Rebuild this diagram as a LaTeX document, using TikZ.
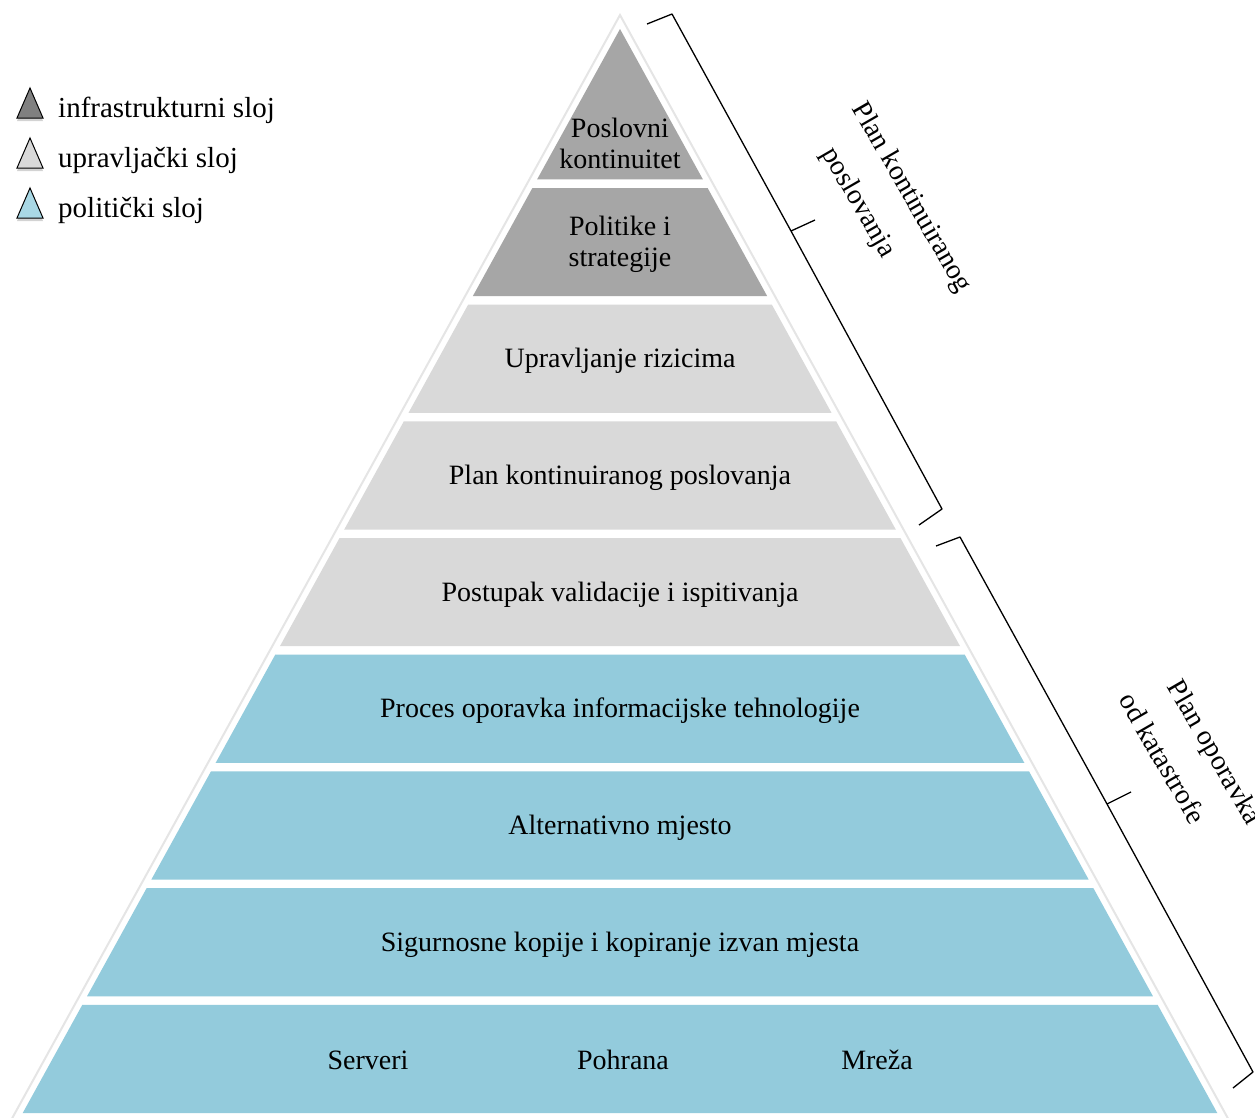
\documentclass[tikz,border=0pt]{standalone}
\usepackage{fontspec}
\setmainfont{Liberation Serif}
\usetikzlibrary{shadows}
\definecolor{darkband}{HTML}{A6A6A6}
\definecolor{lightband}{HTML}{D9D9D9}
\definecolor{blueband}{HTML}{93CBDC}
\definecolor{legdark}{HTML}{808080}
\definecolor{leglight}{HTML}{D9D9D9}
\definecolor{legblue}{HTML}{A9D8E5}
\begin{document}
\begin{tikzpicture}[x=1pt,y=-1pt,
  txt/.style={font=\fontsize{28}{31}\selectfont, inner sep=0pt, align=center},
  legtxt/.style={font=\fontsize{29}{32}\selectfont, inner sep=0pt, anchor=base west},
  legtri/.style={draw=black, line width=1pt, drop shadow={shadow xshift=0pt, shadow yshift=-3pt, opacity=0.35}},
  bracepath/.style={draw=black, line width=1.3pt, line join=round},
  rottxt/.style={font=\fontsize{28}{31}\selectfont, inner sep=0pt, rotate=-60}]
\useasboundingbox (0,0) rectangle (1255,1117);
\clip (0,0) rectangle (1255,1117);
% outer white triangle
\draw[black!10, line width=2pt, fill=white] (620,15) -- (1231.6,1125) -- (8.4,1125) -- cycle;
% top triangle
\fill[darkband] (620,29) -- (702.9,179.4) -- (537.1,179.4) -- cycle;
% bands
\foreach \t/\b/\c in {188/296.1/darkband, 304.6/412.8/lightband, 421.3/529.5/lightband,
  538/646.2/lightband, 654.7/762.9/blueband, 771.4/879.6/blueband, 888.1/996.3/blueband,
  1004.8/1113/blueband}{
  \pgfmathsetmacro\wt{0.551*(\t-29)}
  \pgfmathsetmacro\wb{0.551*(\b-29)}
  \fill[\c] (620-\wt,\t) -- (620+\wt,\t) -- (620+\wb,\b) -- (620-\wb,\b) -- cycle;
}
% band texts
\node[txt] (n1) at (620,143) {Poslovni\\kontinuitet};
\node[txt] (n2) at (620,244) {Politike i\\strategije};
\node[txt] (n3) at (620,361) {Upravljanje rizicima};
\node[txt] (n4) at (620,478) {Plan kontinuiranog poslovanja};
\node[txt] (n5) at (620,595) {Postupak validacije i ispitivanja};
\node[txt] (n6) at (620,711) {Proces oporavka informacijske tehnologije};
\node[txt] (n7) at (620,828) {Alternativno mjesto};
\node[txt] (n8) at (620,945) {Sigurnosne kopije i kopiranje izvan mjesta};
\node[txt] (n9a) at (368,1060) {Serveri};
\node[txt] (n9b) at (623,1060) {Pohrana};
\node[txt] (n9c) at (877,1060) {Mreža};
% braces
\draw[bracepath] (647,24) -- (672,14) -- (791,231) -- (942,509) -- (919,525);
\draw[bracepath] (791,231) -- (815,220);
\draw[bracepath] (936,546) -- (960,537) -- (1107,804) -- (1253,1072) -- (1233,1088);
\draw[bracepath] (1107,804) -- (1131,792);
% brace labels
\node[rottxt] (b1a) at (911,198) {Plan kontinuiranog};
\node[rottxt] (b1b) at (858,203) {poslovanja};
\node[rottxt] (b2a) at (1213,753) {Plan oporavka};
\node[rottxt] (b2b) at (1163,758) {od katastrofe};
% legend
\filldraw[legtri, fill=legdark] (17,118) -- (30,88) -- (43,118) -- cycle;
\filldraw[legtri, fill=leglight] (17,168) -- (30,138) -- (43,168) -- cycle;
\filldraw[legtri, fill=legblue] (17,218) -- (30,188) -- (43,218) -- cycle;
\node[legtxt] (l1) at (58,117) {infrastrukturni sloj};
\node[legtxt] (l2) at (58,167) {upravljački sloj};
\node[legtxt] (l3) at (58,217) {politički sloj};
\end{tikzpicture}
\end{document}
